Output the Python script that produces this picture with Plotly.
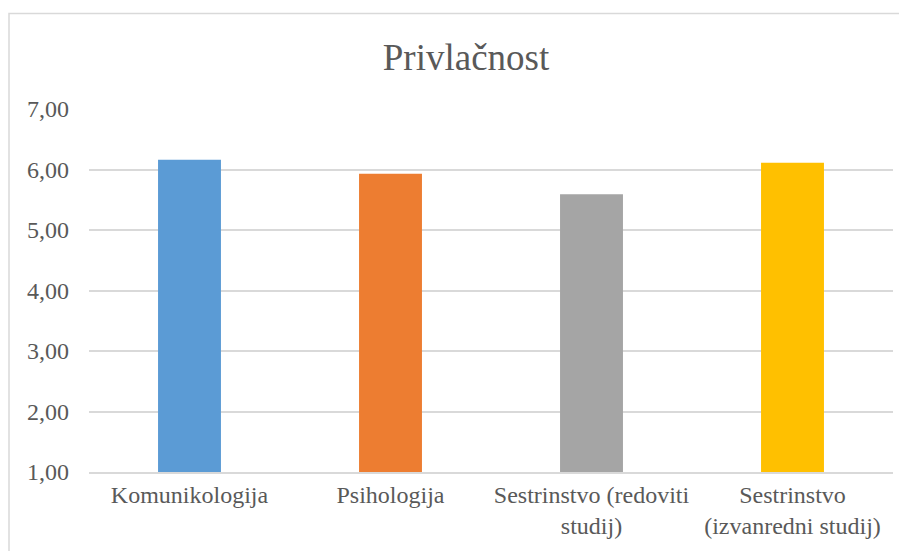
import plotly.graph_objects as go

kategorije = ["Komunikologija", "Psihologija", "Sestrinstvo (redoviti<br>studij)",
              "Sestrinstvo<br>(izvanredni studij)"]
vrijednosti = [6.16, 5.93, 5.59, 6.11]
boje = ["#5b9bd5", "#ed7d31", "#a5a5a5", "#ffc000"]

# page has 8px body margin, so figure coords = picture coords - 8
W, H = 899, 543
L, R, T, B = 81, 14, 101, 77
pw = W - L - R
ph = H - T - B
SERIF = "Times New Roman, Liberation Serif, DejaVu Serif, serif"

fig = go.Figure()
fig.add_trace(go.Bar(
    x=kategorije,
    y=[v - 1 for v in vrijednosti],
    base=1,
    marker={"color": boje, "line": {"width": 0}},
    showlegend=False,
))

fig.update_layout(
    width=W, height=H,
    margin={"l": L, "r": R, "t": T, "b": B},
    paper_bgcolor="white",
    plot_bgcolor="white",
    separators=",.",
    bargap=0.687,
    font={"family": SERIF, "color": "#595959", "size": 20},
    title={
        "text": "Privlačnost",
        "x": 458 / W, "xanchor": "center",
        "y": 1 - 49 / H, "yanchor": "middle",
        "font": {"size": 37, "color": "#595959", "family": SERIF},
    },
    yaxis={
        "range": [1, 7],
        "tickvals": [1, 2, 3, 4, 5, 6, 7],
        "tickformat": ".2f",
        "gridcolor": "#d9d9d9",
        "gridwidth": 1.5,
        "zeroline": False,
        "showline": False,
        "ticks": "",
        "ticklabelstandoff": 19,
        "tickfont": {"size": 24, "family": SERIF},
    },
    xaxis={
        "showline": True,
        "linecolor": "#d9d9d9",
        "linewidth": 1.5,
        "ticks": "",
        "tickfont": {"size": 24, "family": SERIF},
    },
    shapes=[{
        "type": "rect",
        "xref": "paper", "yref": "paper",
        "x0": (1 - L) / pw, "x1": 1.05,
        "y0": -0.4, "y1": (T + ph - 5) / ph,
        "line": {"color": "#d9d9d9", "width": 1.5},
        "fillcolor": "rgba(0,0,0,0)",
        "layer": "below",
    }],
)

fig.write_html("out.html")
